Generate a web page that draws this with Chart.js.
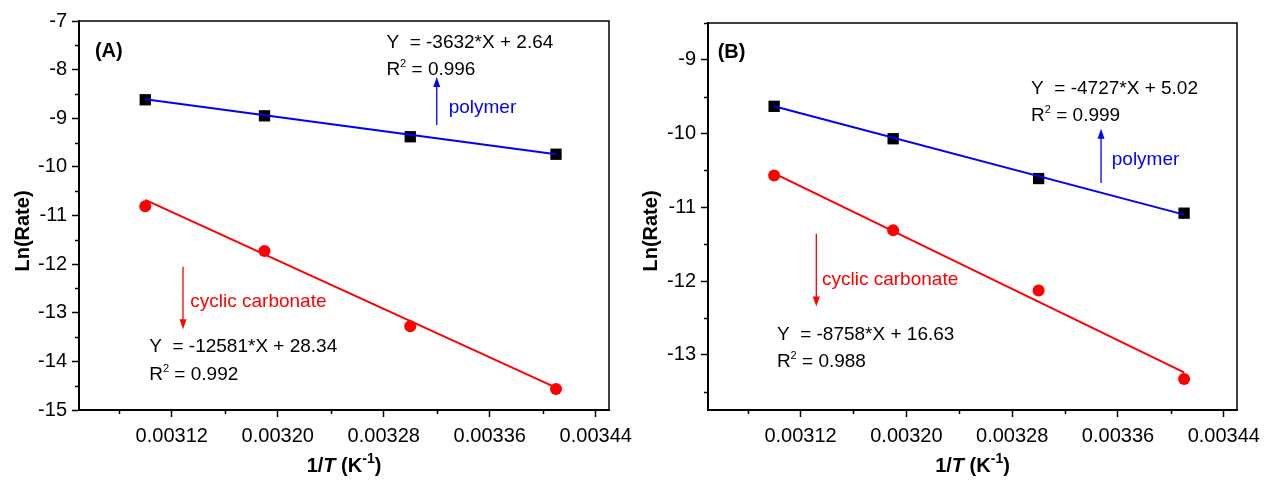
<!DOCTYPE html>
<html>
<head>
<meta charset="utf-8">
<script src="https://cdn.jsdelivr.net/npm/chart.js@4.4.0/dist/chart.umd.min.js"></script>
<style>
html, body { margin: 0; padding: 0; background: #fff; }
.panel { position: absolute; top: 0; width: 632px; height: 481px; }
</style>
</head>
<body>
<div class="panel" style="left:0"><canvas id="chartA" width="632" height="481"></canvas></div>
<div class="panel" style="left:632px"><canvas id="chartB" width="632" height="481"></canvas></div>
<script>
// 1/T values (K^-1)
var invT = [0.0031, 0.00319, 0.0033, 0.00341];
var fitX = [0.0031, 0.00341];

// panel A
var polymerA = [-8.62, -8.95, -9.38, -9.74];
var carbonateA = [-10.81, -11.73, -13.28, -14.57];
var polymerFitA = [-8.61, -9.74];
var carbonateFitA = [-10.68, -14.54];

// panel B
var polymerB = [-9.63, -10.07, -10.61, -11.08];
var carbonateB = [-10.57, -11.31, -12.13, -13.33];
var polymerFitB = [-9.63, -11.10];
var carbonateFitB = [-10.54, -13.24];

var xTicks = [0.00312, 0.0032, 0.00328, 0.00336, 0.00344];
var xMinor = [0.00308, 0.00316, 0.00324, 0.00332, 0.0034];
var yTicksA = [-15, -14, -13, -12, -11, -10, -9, -8, -7];
var yMinorA = [-14.5, -13.5, -12.5, -11.5, -10.5, -9.5, -8.5, -7.5];
var yTicksB = [-13, -12, -11, -10, -9];
var yMinorB = [-13.5, -12.5, -11.5, -10.5, -9.5, -8.5];

var FONT = '"Liberation Sans", Arial, sans-serif';
Chart.defaults.font.family = FONT;
Chart.defaults.color = '#000';

function pts(xs, ys) {
    return xs.map(function(x, i) { return {x: x, y: ys[i]}; });
}

function drawRich(ctx, x, y, parts, align) {
    var w = 0;
    parts.forEach(function(p) { ctx.font = p.font; w += ctx.measureText(p.t).width; });
    var cx = align === 'center' ? x - w / 2 : x;
    parts.forEach(function(p) {
        ctx.font = p.font;
        ctx.fillText(p.t, cx, y + (p.dy || 0));
        cx += ctx.measureText(p.t).width;
    });
}

function drawArrow(ctx, x, y1, y2, color) {
    var dir = y2 > y1 ? 1 : -1;
    ctx.strokeStyle = color;
    ctx.fillStyle = color;
    ctx.lineWidth = 1.3;
    ctx.beginPath();
    ctx.moveTo(x, y1);
    ctx.lineTo(x, y2 - dir * 8);
    ctx.stroke();
    ctx.beginPath();
    ctx.moveTo(x, y2);
    ctx.lineTo(x - 3.5, y2 - dir * 10);
    ctx.lineTo(x + 3.5, y2 - dir * 10);
    ctx.closePath();
    ctx.fill();
}

var txt = '19px ' + FONT;
var sup = '11px ' + FONT;
var bold = 'bold 20px ' + FONT;

var decorPlugin = {
    id: 'decor',
    afterDraw: function(chart) {
        var o = chart.options.plugins.decor;
        var ctx = chart.ctx;
        var a = chart.chartArea;
        var xs = chart.scales.x, ys = chart.scales.y;
        ctx.save();
        // frame
        ctx.strokeStyle = '#000';
        ctx.lineWidth = 1.5;
        ctx.strokeRect(a.left, a.top, a.right - a.left, a.bottom - a.top);
        // minor ticks
        ctx.lineWidth = 1.5;
        ctx.beginPath();
        o.xMinor.forEach(function(v) {
            var px = Math.round(xs.getPixelForValue(v)) + 0.5;
            ctx.moveTo(px, a.bottom);
            ctx.lineTo(px, a.bottom + 4);
        });
        o.yMinor.forEach(function(v) {
            var py = Math.round(ys.getPixelForValue(v)) + 0.5;
            ctx.moveTo(a.left, py);
            ctx.lineTo(a.left - 4, py);
        });
        ctx.stroke();

        ctx.textBaseline = 'alphabetic';
        ctx.textAlign = 'left';
        // panel letter
        ctx.fillStyle = '#000';
        ctx.font = bold;
        ctx.fillText(o.letter.t, xs.getPixelForValue(o.letter.x), ys.getPixelForValue(o.letter.y));

        // equations
        o.eqs.forEach(function(e) {
            var px = xs.getPixelForValue(e.x);
            ctx.fillStyle = '#000';
            drawRich(ctx, px, ys.getPixelForValue(e.y1), [{t: e.line1, font: txt}]);
            drawRich(ctx, px, ys.getPixelForValue(e.y2), [
                {t: 'R', font: txt}, {t: '2', font: sup, dy: -8}, {t: ' = ' + e.r2, font: txt}
            ]);
        });
        // arrows + labels
        o.arrows.forEach(function(r) {
            drawArrow(ctx, xs.getPixelForValue(r.x), ys.getPixelForValue(r.from), ys.getPixelForValue(r.to), r.color);
            ctx.fillStyle = r.color;
            ctx.font = txt;
            ctx.fillText(r.label, xs.getPixelForValue(r.lx), ys.getPixelForValue(r.ly));
        });

        // axis titles
        ctx.fillStyle = '#000';
        var cx = (a.left + a.right) / 2;
        drawRich(ctx, cx, 472, [
            {t: '1/', font: bold},
            {t: 'T', font: 'italic bold 20px ' + FONT},
            {t: ' (K', font: bold},
            {t: '-1', font: 'bold 14px ' + FONT, dy: -9},
            {t: ')', font: bold}
        ], 'center');
        ctx.translate(o.yTitleX, 231);
        ctx.rotate(-Math.PI / 2);
        ctx.textBaseline = 'middle';
        drawRich(ctx, 0, 0, [{t: 'Ln(Rate)', font: bold}], 'center');
        ctx.restore();
    }
};

function makeChart(id, s) {
    var ctx = document.getElementById(id).getContext('2d');
    return new Chart(ctx, {
        type: 'scatter',
        data: {
            datasets: [{
                label: 'polymer fit',
                data: pts(fitX, s.polymerFit),
                showLine: true,
                borderColor: '#0000ff',
                borderWidth: 2,
                pointRadius: 0,
                order: 0
            }, {
                label: 'carbonate fit',
                data: pts(fitX, s.carbonateFit),
                showLine: true,
                borderColor: '#ff0000',
                borderWidth: 2,
                pointRadius: 0,
                order: 0
            }, {
                label: 'polymer',
                data: pts(invT, s.polymer),
                pointStyle: 'rect',
                pointRadius: 8,
                backgroundColor: '#000',
                borderWidth: 0,
                order: 1
            }, {
                label: 'cyclic carbonate',
                data: pts(invT, s.carbonate),
                pointStyle: 'circle',
                pointRadius: 6,
                backgroundColor: '#ff0000',
                borderWidth: 0,
                order: 1
            }]
        },
        options: {
            responsive: false,
            animation: false,
            devicePixelRatio: 1,
            events: [],
            layout: { padding: { left: 0, top: s.padTop, right: s.padRight, bottom: 0 } },
            scales: {
                x: {
                    type: 'linear',
                    min: 0.00305,
                    max: 0.00345,
                    afterBuildTicks: function(scale) {
                        scale.ticks = xTicks.map(function(v) { return {value: v}; });
                    },
                    afterFit: function(scale) {
                        scale.height = 71;
                        scale.paddingLeft = 0; scale.paddingRight = 0;
                    },
                    ticks: {
                        font: { size: 20 },
                        color: '#000',
                        padding: 7,
                        maxRotation: 0,
                        autoSkip: false,
                        callback: function(v) { return v.toFixed(5); }
                    },
                    grid: { drawOnChartArea: false, tickLength: 7, tickWidth: 1.5, tickColor: '#000' },
                    border: { color: '#000', width: 2 }
                },
                y: {
                    type: 'linear',
                    min: s.yMin,
                    max: s.yMax,
                    afterBuildTicks: function(scale) {
                        scale.ticks = s.yTicks.map(function(v) { return {value: v}; });
                    },
                    afterFit: function(scale) {
                        scale.width = s.yWidth;
                        scale.paddingTop = 0; scale.paddingBottom = 0;
                    },
                    ticks: {
                        font: { size: 20 },
                        color: '#000',
                        padding: 5,
                        autoSkip: false,
                        callback: function(v) { return String(v); }
                    },
                    grid: { drawOnChartArea: false, tickLength: 7, tickWidth: 1.5, tickColor: '#000' },
                    border: { color: '#000', width: 2 }
                }
            },
            plugins: {
                legend: { display: false },
                tooltip: { enabled: false },
                decor: {
                    xMinor: xMinor,
                    yMinor: s.yMinor,
                    letter: s.letter,
                    eqs: s.eqs,
                    arrows: s.arrows,
                    yTitleX: s.yTitleX
                }
            }
        },
        plugins: [decorPlugin]
    });
}

makeChart('chartA', {
    polymer: polymerA, carbonate: carbonateA,
    polymerFit: polymerFitA, carbonateFit: carbonateFitA,
    yMin: -15, yMax: -7, yTicks: yTicksA, yMinor: yMinorA,
    yWidth: 79, padTop: 21, padRight: 23, yTitleX: 23,
    letter: { t: '(A)', x: 0.003062, y: -7.74 },
    eqs: [
        { x: 0.003282, y1: -7.555, y2: -8.11, line1: 'Y  = -3632*X + 2.64', r2: '0.996' },
        { x: 0.003103, y1: -13.813, y2: -14.383, line1: 'Y  = -12581*X + 28.34', r2: '0.992' }
    ],
    arrows: [
        { x: 0.00332, from: -9.139, to: -8.152, color: '#0000ff', label: 'polymer', lx: 0.003329, ly: -8.898 },
        { x: 0.0031285, from: -12.053, to: -13.34, color: '#ff0000', label: 'cyclic carbonate', lx: 0.003134, ly: -12.876 }
    ]
});

makeChart('chartB', {
    polymer: polymerB, carbonate: carbonateB,
    polymerFit: polymerFitB, carbonateFit: carbonateFitB,
    yMin: -13.75, yMax: -8.5, yTicks: yTicksB, yMinor: yMinorB,
    yWidth: 76, padTop: 23, padRight: 27, yTitleX: 19,
    letter: { t: '(B)', x: 0.0030573, y: -8.975 },
    eqs: [
        { x: 0.0032943, y1: -9.464, y2: -9.836, line1: 'Y  = -4727*X + 5.02', r2: '0.999' },
        { x: 0.0031021, y1: -12.8, y2: -13.162, line1: 'Y  = -8758*X + 16.63', r2: '0.988' }
    ],
    arrows: [
        { x: 0.0033472, from: -10.672, to: -9.935, color: '#0000ff', label: 'polymer', lx: 0.0033553, ly: -10.424 },
        { x: 0.0031319, from: -11.36, to: -12.347, color: '#ff0000', label: 'cyclic carbonate', lx: 0.0031362, ly: -12.053 }
    ]
});
</script>
</body>
</html>
